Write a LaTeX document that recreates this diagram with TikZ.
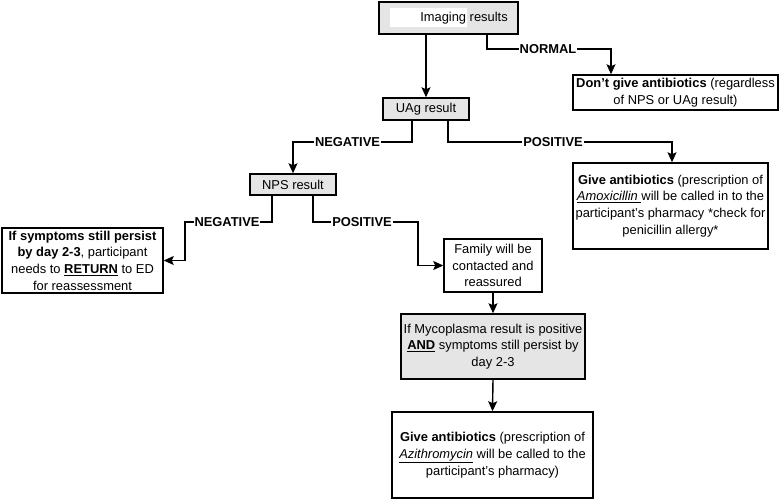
\documentclass[tikz,border=0pt]{standalone}
\usepackage{fontspec}
\setmainfont{Liberation Sans}
\usetikzlibrary{arrows.meta}
\newcommand\fsz{\fontsize{12.9}{16.7}\selectfont}
\newcommand\apos{\char"27\relax}
\begin{document}
\begin{tikzpicture}[x=1pt,y=-1pt,
  box/.style={draw, line width=1.5pt, align=center, inner sep=2pt, font=\fsz},
  greybox/.style={box, fill=gray!20},
  arr/.style={line width=1.4pt, -{Stealth[length=10pt,width=9pt,inset=2pt]}},
  lbl/.style={fill=white, inner sep=1pt, font=\fsz\bfseries}]
\useasboundingbox (0,0) rectangle (780,499);

% boxes
\node[greybox, minimum width=139pt, minimum height=32pt] (img) at (448.5,18) {};
\fill[white] (390,8) rectangle (467,27);
\node[font=\fsz, inner sep=0pt] (imgtxt) at (464,18) {Imaging results};

\node[greybox, minimum width=86pt, minimum height=22pt] (uag) at (426,109) {UAg result};
\node[box, minimum width=205pt, minimum height=35pt] (dont) at (675.5,92.5)
  {\textbf{Don\apos t give antibiotics} (regardless\\ of NPS or UAg result)};
\node[greybox, minimum width=86pt, minimum height=21pt] (nps) at (293,184.5) {NPS result};
\node[box, minimum width=195pt, minimum height=86pt] (amox) at (670.5,206)
  {\textbf{Give antibiotics} (prescription of\\ \underline{\textit{Amoxicillin }}will be called in to the\\ participant\apos s pharmacy *check for\\ penicillin allergy*};
\node[box, minimum width=161pt, minimum height=65pt] (symp) at (82.5,260.5)
  {\textbf{If symptoms still persist}\\ \textbf{by day 2-3}, participant\\ needs to \underline{\textbf{RETURN}} to ED\\ for reassessment};
\node[box, minimum width=98pt, minimum height=53pt] (fam) at (493,265.5)
  {Family will be\\ contacted and\\ reassured};
\node[greybox, minimum width=184pt, minimum height=65pt] (myco) at (493,346.5)
  {If Mycoplasma result is positive\\ \underline{\textbf{AND}} symptoms still persist by\\ day 2-3};
\node[box, minimum width=201pt, minimum height=86pt] (final) at (492.5,455)
  {\textbf{Give antibiotics} (prescription of\\ \underline{\textit{Azithromycin}} will be called to the\\ participant\apos s pharmacy)};

% bend points
\coordinate (n1) at (487,49);
\coordinate (n2) at (611,49);
\coordinate (u1) at (412,142);
\coordinate (u2) at (293,142);
\coordinate (p1) at (448,142);
\coordinate (p2) at (672,142);
\coordinate (s1) at (272,222);
\coordinate (s2) at (185,222);
\coordinate (s3) at (185,260.5);
\coordinate (t1) at (313,222);
\coordinate (t2) at (418,222);
\coordinate (t3) at (418,265.5);

% connectors
\draw[arr] (img.south -| uag.north) -- (uag.north);
\draw[arr] (img.south -| n1) -- (n1) -- (n2) -- (dont.north -| n2);
\draw[arr] (uag.south -| u1) -- (u1) -- (u2) -- (nps.north);
\draw[arr] (uag.south -| p1) -- (p1) -- (p2) -- (amox.north -| p2);
\draw[arr] (nps.south -| s1) -- (s1) -- (s2) -- (s3) -- (symp.east);
\draw[arr] (nps.south -| t1) -- (t1) -- (t2) -- (t3) -- (fam.west);
\draw[arr] (fam.south) -- (myco.north);
\draw[arr] (myco.south) -- (final.north);

% labels
\node[lbl] (lnormal) at (548,49) {NORMAL};
\node[lbl] (lneg1) at (347.5,142) {NEGATIVE};
\node[lbl] (lpos1) at (553,142) {POSITIVE};
\node[lbl] (lneg2) at (227,222) {NEGATIVE};
\node[lbl] (lpos2) at (362,222) {POSITIVE};
\end{tikzpicture}
\end{document}
